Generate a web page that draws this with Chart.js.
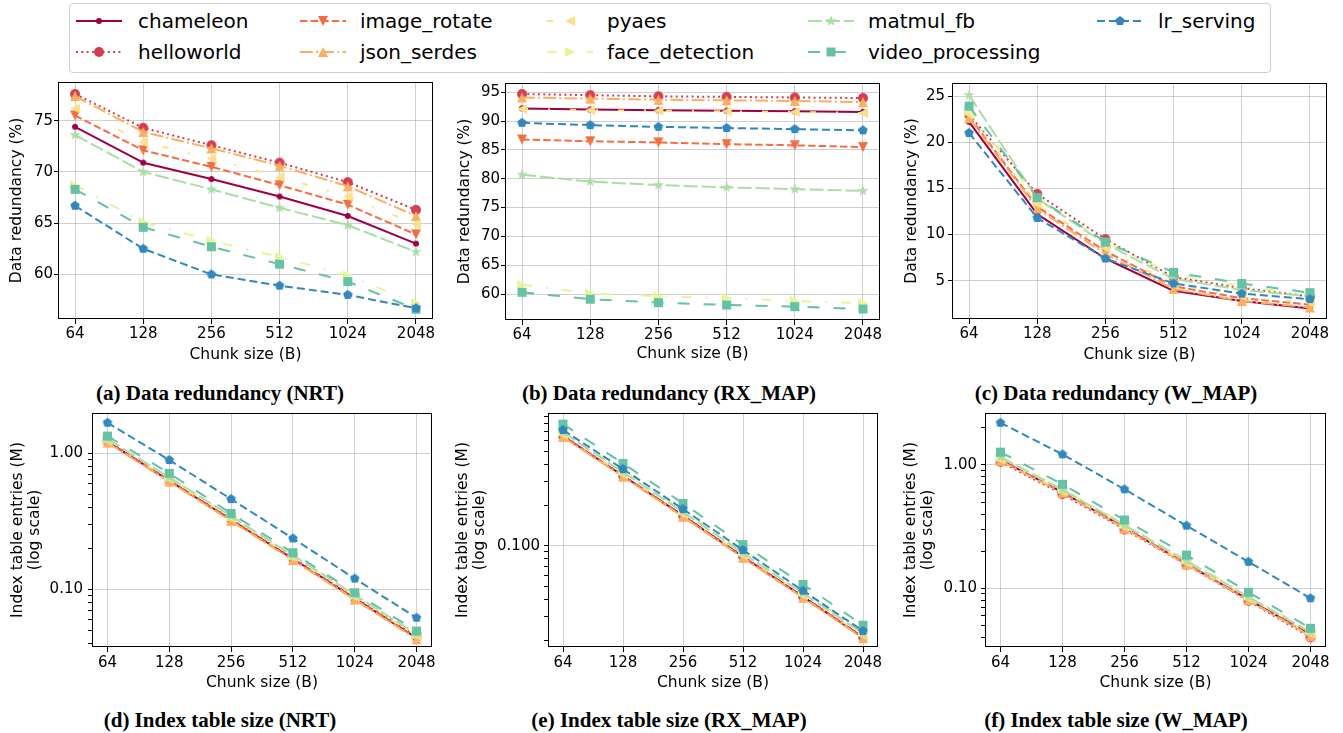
<!DOCTYPE html>
<html>
<head>
<meta charset="utf-8">
<title>Data redundancy and index table size</title>
<script src="https://cdn.jsdelivr.net/npm/chart.js@4.4.1/dist/chart.umd.min.js"></script>
<style>
    body {
        margin: 0;
        width: 1343px;
        height: 733px;
        position: relative;
        overflow: hidden;
        background: #fff;
        font-family: 'DejaVu Sans', sans-serif;
    }
    canvas.panel { position: absolute; }
    .caption {
        position: absolute;
        width: 440px;
        text-align: center;
        font-family: 'Liberation Serif', serif;
        font-weight: bold;
        font-size: 21px;
        line-height: 24px;
        color: #000;
        white-space: nowrap;
    }
    #legendBox {
        position: absolute;
        left: 69px;
        top: 3px;
        width: 1200px;
        height: 68px;
        border: 1px solid #d0d0d0;
        border-radius: 4px;
    }
    .lg-handle { position: absolute; }
    .lg-text {
        position: absolute;
        font-size: 20px;
        line-height: 24px;
        color: #000;
        white-space: nowrap;
    }
</style>
</head>
<body>
<div id="legendBox"></div>
<script>
// x categories (chunk size in bytes)
const chunkSizes = [64, 128, 256, 512, 1024, 2048];
const seriesNames = ['chameleon', 'helloworld', 'image_rotate', 'json_serdes', 'pyaes',
    'face_detection', 'matmul_fb', 'video_processing', 'lr_serving'];

// each row follows seriesNames order
const nrtRedundancy = [
    [74.4, 70.9, 69.3, 67.6, 65.7, 63.0],
    [77.6, 74.3, 72.6, 70.9, 69.0, 66.3],
    [75.5, 72.1, 70.5, 68.7, 66.8, 63.9],
    [77.4, 73.9, 72.3, 70.6, 68.6, 65.7],
    [76.2, 72.9, 71.3, 69.5, 67.6, 64.9],
    [68.7, 65.1, 63.3, 61.7, 59.9, 57.2],
    [73.6, 70.0, 68.3, 66.5, 64.8, 62.2],
    [68.3, 64.6, 62.7, 61.0, 59.3, 56.6],
    [66.7, 62.5, 60.0, 58.9, 58.0, 56.7]
];
const rxRedundancy = [
    [92.2, 92.0, 91.9, 91.8, 91.7, 91.6],
    [94.7, 94.5, 94.3, 94.2, 94.1, 94.0],
    [86.8, 86.5, 86.3, 86.0, 85.8, 85.5],
    [94.1, 93.9, 93.7, 93.6, 93.5, 93.3],
    [92.1, 91.9, 91.8, 91.7, 91.6, 91.4],
    [61.6, 60.1, 59.6, 59.3, 58.8, 58.4],
    [80.7, 79.5, 78.9, 78.5, 78.2, 77.9],
    [60.3, 59.1, 58.5, 58.1, 57.8, 57.4],
    [89.7, 89.3, 89.0, 88.8, 88.6, 88.4]
];
const wRedundancy = [
    [22.2, 12.2, 7.4, 3.9, 2.8, 2.0],
    [23.0, 14.4, 9.5, 5.4, 4.2, 3.3],
    [22.8, 13.0, 8.2, 4.4, 3.1, 2.4],
    [22.6, 12.8, 7.9, 4.1, 2.8, 2.1],
    [23.0, 13.3, 8.5, 4.6, 3.3, 2.6],
    [23.4, 13.8, 9.2, 5.7, 4.4, 3.5],
    [25.1, 13.9, 9.0, 5.2, 4.0, 3.3],
    [23.9, 14.0, 9.2, 5.9, 4.7, 3.7],
    [21.0, 11.8, 7.4, 4.7, 3.6, 3.0]
];
const nrtIndex = [
    [1.22, 0.63, 0.325, 0.168, 0.086, 0.044],
    [1.23, 0.635, 0.328, 0.17, 0.087, 0.045],
    [1.21, 0.625, 0.322, 0.166, 0.085, 0.044],
    [1.20, 0.62, 0.318, 0.164, 0.084, 0.043],
    [1.24, 0.645, 0.333, 0.172, 0.088, 0.0455],
    [1.27, 0.66, 0.34, 0.176, 0.09, 0.0465],
    [1.28, 0.665, 0.345, 0.178, 0.091, 0.047],
    [1.34, 0.713, 0.362, 0.186, 0.0945, 0.0494],
    [1.68, 0.893, 0.461, 0.237, 0.12, 0.0619]
];
const rxIndex = [
    [0.65, 0.33, 0.167, 0.083, 0.042, 0.021],
    [0.655, 0.332, 0.168, 0.0835, 0.0422, 0.0212],
    [0.645, 0.327, 0.165, 0.082, 0.0415, 0.0209],
    [0.64, 0.325, 0.164, 0.0815, 0.0412, 0.0207],
    [0.665, 0.337, 0.171, 0.085, 0.043, 0.0216],
    [0.70, 0.36, 0.183, 0.091, 0.046, 0.023],
    [0.69, 0.35, 0.178, 0.088, 0.0445, 0.0224],
    [0.796, 0.407, 0.206, 0.102, 0.0518, 0.0258],
    [0.72, 0.37, 0.187, 0.093, 0.0465, 0.0234]
];
const wIndex = [
    [1.10, 0.60, 0.31, 0.158, 0.081, 0.042],
    [1.06, 0.58, 0.30, 0.155, 0.079, 0.040],
    [1.09, 0.60, 0.308, 0.158, 0.080, 0.0415],
    [1.08, 0.595, 0.305, 0.156, 0.080, 0.041],
    [1.11, 0.61, 0.315, 0.161, 0.082, 0.0425],
    [1.15, 0.64, 0.33, 0.17, 0.087, 0.045],
    [1.16, 0.63, 0.325, 0.167, 0.085, 0.044],
    [1.27, 0.697, 0.358, 0.186, 0.0929, 0.0474],
    [2.20, 1.22, 0.635, 0.322, 0.164, 0.083]
];

// y tick labels
const nrtRedundancyTicks = [60, 65, 70, 75];
const rxRedundancyTicks = [60, 65, 70, 75, 80, 85, 90, 95];
const wRedundancyTicks = [5, 10, 15, 20, 25];
const nrtIndexTicks = [0.1, 1.0];
const rxIndexTicks = [0.1];
const wIndexTicks = [0.1, 1.0];

// styling per series
const seriesColors = ['#9e0142', '#d53e4f', '#f46d43', '#fdae61', '#fee08b',
    '#e6f598', '#abdda4', '#66c2a5', '#3288bd'];
const seriesDashes = [[], [2, 3.3], [7.4, 3.2], [12.8, 3.2, 2, 3.2], [6, 20, 2, 20],
    [10, 14, 2, 14], [14, 4], [12, 14], [8, 4]];
const seriesMarkers = ['dot', 'circle', 'triDown', 'triUp', 'triLeft', 'triRight', 'star', 'square', 'pentagon'];

const gridColor = 'rgba(176, 176, 176, 0.6)';
const tickFontSize = 15;
const titleFontSize = 15.5;

Chart.defaults.font.family = "'DejaVu Sans', sans-serif";
Chart.defaults.color = '#000';

// small canvas markers, like matplotlib's marker set
function makeMarker(shape, color) {
    const sizes = { dot: 6, circle: 10, square: 9, star: 12 };
    const ms = sizes[shape] || 10;
    const c = document.createElement('canvas');
    const s = ms + 4;
    c.width = s;
    c.height = s;
    const g = c.getContext('2d');
    g.fillStyle = color;
    g.translate(s / 2, s / 2);
    const r = ms / 2;
    g.beginPath();
    switch (shape) {
        case 'dot':
        case 'circle':
            g.arc(0, 0, r, 0, Math.PI * 2);
            break;
        case 'triDown':
            g.moveTo(0, r); g.lineTo(-r, -r); g.lineTo(r, -r);
            break;
        case 'triUp':
            g.moveTo(0, -r); g.lineTo(-r, r); g.lineTo(r, r);
            break;
        case 'triLeft':
            g.moveTo(-r, 0); g.lineTo(r, -r); g.lineTo(r, r);
            break;
        case 'triRight':
            g.moveTo(r, 0); g.lineTo(-r, -r); g.lineTo(-r, r);
            break;
        case 'square':
            g.rect(-r, -r, ms, ms);
            break;
        case 'star':
            for (let k = 0; k < 10; k++) {
                const rr = k % 2 === 0 ? r : r * 0.382;
                const ang = -Math.PI / 2 + k * Math.PI / 5;
                const px = rr * Math.cos(ang), py = rr * Math.sin(ang);
                if (k === 0) g.moveTo(px, py); else g.lineTo(px, py);
            }
            break;
        case 'pentagon':
            for (let k = 0; k < 5; k++) {
                const ang = -Math.PI / 2 + k * 2 * Math.PI / 5;
                const px = r * Math.cos(ang), py = r * Math.sin(ang);
                if (k === 0) g.moveTo(px, py); else g.lineTo(px, py);
            }
            break;
    }
    g.closePath();
    g.fill();
    return c;
}

const markerImages = seriesNames.map((n, i) => makeMarker(seriesMarkers[i], seriesColors[i]));

// Frame around the plot area (matplotlib spines)
const framePlugin = {
    id: 'frame',
    afterDatasetsDraw(chart) {
        const { ctx, chartArea: a } = chart;
        ctx.save();
        ctx.strokeStyle = '#000';
        ctx.lineWidth = 1;
        ctx.strokeRect(a.left + 0.5, a.top + 0.5, a.right - a.left - 1, a.bottom - a.top - 1);
        ctx.restore();
    }
};

function logTickList(min, max, majors) {
    const out = [];
    for (let e = -3; e <= 1; e++) {
        for (let m = 1; m <= 9; m++) {
            const v = m * Math.pow(10, e);
            if (v >= min && v <= max) {
                out.push({ value: v, isMajor: majors.some(t => Math.abs(t - v) < 1e-9) });
            }
        }
    }
    return out;
}

const panels = [
    { data: nrtRedundancy, ticks: nrtRedundancyTicks, log: false, yMin: 55.65, yMax: 78.77,
      plot: { l: 58, t: 82, r: 433, b: 319 }, yTitleX: 17, xTitleY: 355, yPad: 1, xPad: 1,
      yTitle: 'Data redundancy (%)', caption: '(a) Data redundancy (NRT)', capX: 220, capY: 393 },
    { data: rxRedundancy, ticks: rxRedundancyTicks, log: false, yMin: 55.49, yMax: 96.61,
      plot: { l: 505, t: 83, r: 880, b: 320 }, yTitleX: 465, xTitleY: 354, yPad: 1, xPad: 1,
      yTitle: 'Data redundancy (%)', caption: '(b) Data redundancy (RX_MAP)', capX: 669, capY: 393 },
    { data: wRedundancy, ticks: wRedundancyTicks, log: false, yMin: 0.85, yMax: 26.41,
      plot: { l: 952, t: 83, r: 1327, b: 319 }, yTitleX: 912, xTitleY: 355, yPad: 3, xPad: 1,
      yTitle: 'Data redundancy (%)', caption: '(c) Data redundancy (W_MAP)', capX: 1116, capY: 393 },
    { data: nrtIndex, ticks: nrtIndexTicks, log: true, digits: 2, yMin: 0.0377, yMax: 1.98,
      plot: { l: 92, t: 413, r: 432, b: 647 }, yTitleX: 18, xTitleY: 683, yPad: 5, xPad: 2,
      yTitle: ['Index table entries (M)', '(log scale)'], caption: '(d) Index table size (NRT)', capX: 220, capY: 720 },
    { data: rxIndex, ticks: rxIndexTicks, log: true, digits: 3, yMin: 0.0178, yMax: 0.962,
      plot: { l: 548, t: 413, r: 878, b: 647 }, yTitleX: 463, xTitleY: 683, yPad: 4, xPad: 2,
      yTitle: ['Index table entries (M)', '(log scale)'], caption: '(e) Index table size (RX_MAP)', capX: 669, capY: 720 },
    { data: wIndex, ticks: wIndexTicks, log: true, digits: 2, yMin: 0.0334, yMax: 2.64,
      plot: { l: 985, t: 413, r: 1326, b: 647 }, yTitleX: 911, xTitleY: 683, yPad: 4, xPad: 2,
      yTitle: ['Index table entries (M)', '(log scale)'], caption: '(f) Index table size (W_MAP)', capX: 1116, capY: 720 }
];

function buildPanel(p) {
    const lh = titleFontSize * 1.1;
    const padTop = 16, padRight = 14;
    const left = Math.floor(p.yTitleX - lh / 2);
    const yTitlePad = p.yTitleX - lh / 2 - left;
    const top = p.plot.t - padTop;
    const right = p.plot.r + padRight;
    const bottom = Math.ceil(p.xTitleY + lh / 2);
    const xTitlePad = bottom - (p.xTitleY + lh / 2);
    const yAxisWidth = p.plot.l - left;
    const xAxisHeight = bottom - p.plot.b;

    const canvas = document.createElement('canvas');
    canvas.className = 'panel';
    canvas.width = right - left;
    canvas.height = bottom - top;
    canvas.style.left = left + 'px';
    canvas.style.top = top + 'px';
    document.body.appendChild(canvas);

    const datasets = p.data.map((vals, i) => ({
        label: seriesNames[i],
        data: chunkSizes.map((c, j) => ({ x: c, y: vals[j] })),
        borderColor: seriesColors[i],
        backgroundColor: seriesColors[i],
        borderWidth: 2,
        borderDash: seriesDashes[i],
        borderJoinStyle: 'round',
        pointStyle: markerImages[i],
        pointRadius: 4,
        pointHoverRadius: 4,
        tension: 0,
        fill: false,
        order: seriesNames.length - i
    }));

    let yScale;
    if (p.log) {
        yScale = {
            type: 'logarithmic',
            min: p.yMin,
            max: p.yMax,
            afterBuildTicks: s => { s.ticks = logTickList(p.yMin, p.yMax, p.ticks); },
            ticks: {
                autoSkip: false,
                font: { size: tickFontSize },
                padding: p.yPad,
                callback: (v, idx, ticks) => ticks[idx].isMajor ? v.toFixed(p.digits) : ''
            },
            grid: {
                color: ctx => (ctx.tick && ctx.tick.isMajor) ? gridColor : 'rgba(0,0,0,0)',
                tickColor: '#000',
                tickLength: 4,
                tickWidth: 1
            }
        };
    } else {
        yScale = {
            type: 'linear',
            min: p.yMin,
            max: p.yMax,
            afterBuildTicks: s => { s.ticks = p.ticks.map(v => ({ value: v })); },
            ticks: {
                autoSkip: false,
                font: { size: tickFontSize },
                padding: p.yPad,
                callback: v => String(v)
            },
            grid: { color: gridColor, tickColor: '#000', tickLength: 4, tickWidth: 1 }
        };
    }
    yScale.afterFit = s => { s.width = yAxisWidth; };
    yScale.border = { display: false };
    yScale.title = {
        display: true,
        text: p.yTitle,
        color: '#000',
        font: { size: titleFontSize, lineHeight: 1.1 },
        padding: { top: yTitlePad, bottom: 0 }
    };

    new Chart(canvas, {
        type: 'line',
        data: { datasets: datasets },
        options: {
            responsive: false,
            animation: false,
            events: [],
            layout: { padding: { top: padTop, right: padRight, left: 0, bottom: 0 } },
            plugins: {
                legend: { display: false },
                tooltip: { enabled: false }
            },
            scales: {
                x: {
                    type: 'logarithmic',
                    min: chunkSizes[0] / Math.pow(2, 0.25),
                    max: chunkSizes[chunkSizes.length - 1] * Math.pow(2, 0.25),
                    afterBuildTicks: s => { s.ticks = chunkSizes.map(v => ({ value: v })); },
                    afterFit: s => { s.height = xAxisHeight; },
                    ticks: {
                        autoSkip: false,
                        maxRotation: 0,
                        font: { size: tickFontSize },
                        padding: p.xPad,
                        callback: v => String(v)
                    },
                    grid: { color: gridColor, tickColor: '#000', tickLength: 5, tickWidth: 1 },
                    border: { display: false },
                    title: {
                        display: true,
                        text: 'Chunk size (B)',
                        color: '#000',
                        font: { size: titleFontSize, lineHeight: 1.1 },
                        padding: { top: 0, bottom: xTitlePad }
                    }
                },
                y: yScale
            }
        },
        plugins: [framePlugin]
    });

    const cap = document.createElement('div');
    cap.className = 'caption';
    cap.textContent = p.caption;
    cap.style.left = (p.capX - 220) + 'px';
    cap.style.top = (p.capY - 12) + 'px';
    document.body.appendChild(cap);
}

panels.forEach(buildPanel);

// Shared legend (column-major, like matplotlib ncol=5)
const legendHandleX = [76, 300, 547, 808, 1097];
const legendTextX = [138, 360, 607, 868, 1158];
const legendRowY = [21, 52];

function buildLegend() {
    seriesNames.forEach((name, i) => {
        const col = Math.floor(i / 2);
        const row = i % 2;
        const cy = legendRowY[row];

        const h = document.createElement('canvas');
        h.className = 'lg-handle';
        h.width = 46;
        h.height = 20;
        h.style.left = legendHandleX[col] + 'px';
        h.style.top = (cy - 10) + 'px';
        const g = h.getContext('2d');
        g.strokeStyle = seriesColors[i];
        g.lineWidth = 2;
        g.setLineDash(seriesDashes[i]);
        g.beginPath();
        g.moveTo(0, 10);
        g.lineTo(46, 10);
        g.stroke();
        const m = markerImages[i];
        g.drawImage(m, 23 - m.width / 2, 10 - m.height / 2);
        document.body.appendChild(h);

        const t = document.createElement('div');
        t.className = 'lg-text';
        t.textContent = name;
        t.style.left = legendTextX[col] + 'px';
        t.style.top = (cy - 12) + 'px';
        document.body.appendChild(t);
    });
}

buildLegend();
</script>
</body>
</html>
